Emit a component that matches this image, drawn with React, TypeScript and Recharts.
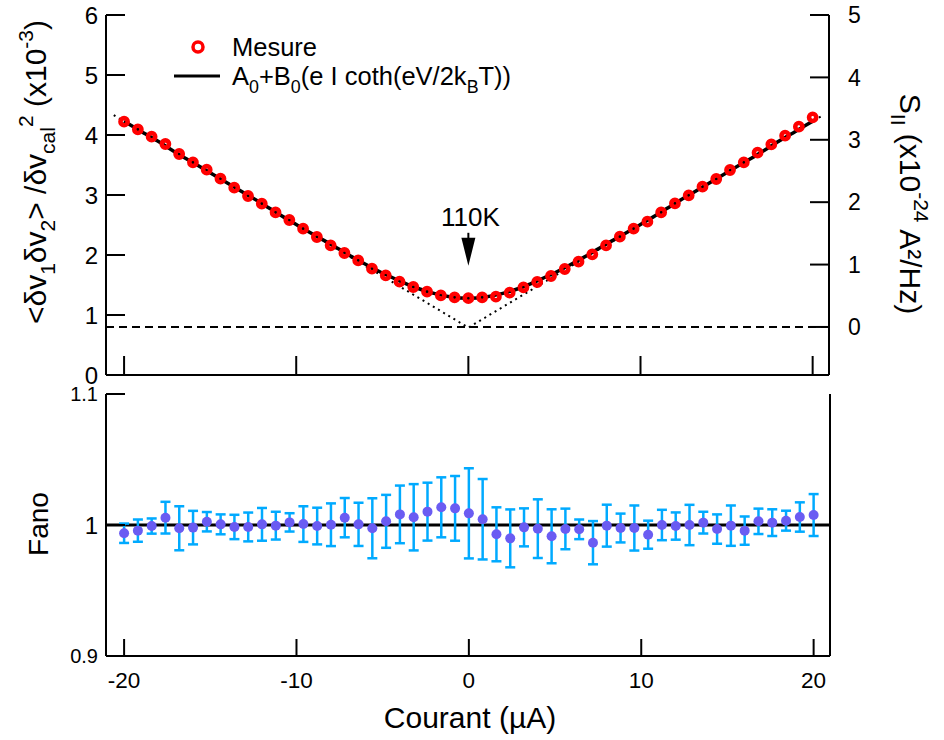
import {
  ComposedChart,
  Scatter,
  Line,
  XAxis,
  YAxis,
  ErrorBar,
  ReferenceLine,
  ReferenceDot,
} from 'recharts';

// courant (µA) des points de mesure
const current = [
  -20, -19.2, -18.4, -17.6, -16.8, -16, -15.2, -14.4, -13.6, -12.8, -12, -11.2, -10.4, -9.6, -8.8, -8,
  -7.2, -6.4, -5.6, -4.8, -4, -3.2, -2.4, -1.6, -0.8, 0, 0.8, 1.6, 2.4, 3.2, 4, 4.8, 5.6, 6.4, 7.2, 8,
  8.8, 9.6, 10.4, 11.2, 12, 12.8, 13.6, 14.4, 15.2, 16, 16.8, 17.6, 18.4, 19.2, 20,
];

// <dv1 dv2>/dvcal^2 (x1e-3)
const mesure = [
  4.222, 4.094, 3.972, 3.85, 3.683, 3.544, 3.422, 3.272, 3.122, 2.983, 2.856, 2.711, 2.583, 2.439, 2.3, 2.161,
  2.033, 1.911, 1.772, 1.661, 1.556, 1.467, 1.389, 1.328, 1.294, 1.28, 1.294, 1.306, 1.372, 1.461, 1.55, 1.65,
  1.767, 1.889, 2.011, 2.161, 2.306, 2.439, 2.556, 2.711, 2.861, 2.994, 3.139, 3.267, 3.417, 3.544, 3.706,
  3.844, 3.989, 4.139, 4.294,
];

const fano = [
  0.9937, 0.9957, 0.9992, 1.0056, 0.9975, 0.998, 1.0025, 1.0005, 0.9985, 0.9985, 1.0005, 0.9995, 1.002, 1.0007,
  0.9992, 1.0002, 1.0056, 1.0005, 0.9975, 1.0028, 1.0081, 1.0059, 1.0102, 1.0135, 1.0127, 1.0089, 1.0044,
  0.9929, 0.9898, 0.9982, 0.9972, 0.9914, 0.997, 0.9967, 0.9865, 0.9995, 0.9977, 0.9977, 0.9926, 1.0, 0.9992,
  1.0, 1.0018, 0.9969, 0.9995, 0.9957, 1.0028, 1.0018, 1.0033, 1.0061, 1.0076,
];

const fanoErr = [
  0.0074, 0.0085, 0.0058, 0.0121, 0.0168, 0.0128, 0.0074, 0.0076, 0.0093, 0.011, 0.0125, 0.0106, 0.007, 0.0136,
  0.014, 0.0163, 0.015, 0.0165, 0.0229, 0.0202, 0.022, 0.0253, 0.0221, 0.0229, 0.0247, 0.0344, 0.0307, 0.0206,
  0.0221, 0.0145, 0.0224, 0.0206, 0.0155, 0.0075, 0.0165, 0.016, 0.011, 0.0172, 0.0107, 0.0116, 0.0104, 0.0154,
  0.0083, 0.0112, 0.0154, 0.0108, 0.0097, 0.0102, 0.0076, 0.0112, 0.016,
];

// ajustement A0+B0(eI coth(eV/2kBT))
const fitCurrent = [
  -20, -19, -18, -17, -16, -15, -14, -13, -12, -11, -10, -9, -8, -7, -6, -5, -4, -3, -2, -1, 0,
  1, 2, 3, 4, 5, 6, 7, 8, 9, 10, 11, 12, 13, 14, 15, 16, 17, 18, 19, 20,
];
const fitValue = [
  4.23, 4.06, 3.89, 3.71, 3.54, 3.37, 3.2, 3.03, 2.86, 2.68, 2.51, 2.34, 2.18, 2.01, 1.85, 1.7, 1.57, 1.45, 1.36,
  1.3, 1.28, 1.3, 1.36, 1.45, 1.57, 1.7, 1.85, 2.01, 2.18, 2.34, 2.51, 2.68, 2.86, 3.03, 3.2, 3.37, 3.54, 3.71,
  3.89, 4.06, 4.23,
];

// asymptotes (bruit de grenaille a T=0)
const asymCurrent = [-20.6, 0, 20.6];
const asymValue = [4.33, 0.79, 4.33];

const xTicks = [-20, -10, 0, 10, 20];
const yTicksTop = [0, 1, 2, 3, 4, 5, 6];
const yTicksRight = [0, 1, 2, 3, 4, 5];
const yTicksFano = [0.9, 1, 1.1];

const X_DOMAIN: [number, number] = [-21.05, 20.95];
const FONT = "'Liberation Sans', Arial, sans-serif";

const mesureData = current.map((x, i) => ({ x, y: mesure[i] }));
const fanoData = current.map((x, i) => ({ x, y: fano[i], err: fanoErr[i] }));
const fitData = fitCurrent.map((x, i) => ({ x, y: fitValue[i] }));
const asymData = asymCurrent.map((x, i) => ({ x, y: asymValue[i] }));

const TICK_LEN = 19;

function LeftTick(props: any) {
  const { x, y, payload, big } = props;
  const v = payload.value;
  const fs = big ? 24 : v === 1 ? 24 : 20;
  return (
    <g>
      <line x1={x} y1={y} x2={x + TICK_LEN} y2={y} stroke="#000" strokeWidth={2} />
      <text x={x - 8} y={y} dy="0.36em" textAnchor="end" fontSize={fs} fontFamily={FONT} fill="#000">
        {v}
      </text>
    </g>
  );
}

function RightTick(props: any) {
  const { x, y, payload } = props;
  return (
    <g>
      <line x1={x} y1={y} x2={x - TICK_LEN} y2={y} stroke="#000" strokeWidth={2} />
      <text x={x + 19} y={y} dy="0.36em" textAnchor="start" fontSize={23} fontFamily={FONT} fill="#000">
        {payload.value}
      </text>
    </g>
  );
}

function BottomTick(props: any) {
  const { x, y, payload, label } = props;
  return (
    <g>
      <line x1={x} y1={y} x2={x} y2={y - (label ? 17 : TICK_LEN)} stroke="#000" strokeWidth={2} />
      {label && (
        <text x={x} y={y + 24} dy="0.36em" textAnchor="middle" fontSize={22.5} fontFamily={FONT} fill="#000">
          {payload.value}
        </text>
      )}
    </g>
  );
}

function TopTick(props: any) {
  const { x, y, len } = props;
  return <line x1={x} y1={y} x2={x} y2={y + (len || TICK_LEN)} stroke="#000" strokeWidth={2} />;
}

const axisLine = { stroke: '#000', strokeWidth: 2 };

function Ring(props: any) {
  const { cx, cy } = props;
  return <circle cx={cx} cy={cy} r={3.6} fill="none" stroke="#ff0000" strokeWidth={4.6} />;
}

function Dot(props: any) {
  const { cx, cy } = props;
  return <circle cx={cx} cy={cy} r={5} fill="#6a5cf2" />;
}

function Arrow110K(props: any) {
  const { cx, cy } = props;
  return (
    <g>
      <text x={cx + 2} y={cy - 40} textAnchor="middle" fontSize={26} fontFamily={FONT} fill="#000">
        110K
      </text>
      <line x1={cx} y1={cy - 33} x2={cx} y2={cy - 20} stroke="#000" strokeWidth={2} />
      <polygon points={`${cx - 7},${cy - 28} ${cx + 7},${cy - 28} ${cx},${cy}`} fill="#000" />
    </g>
  );
}

// texte avec indices / exposants : [texte, 0 normal | 1 indice | 2 exposant]
type Seg = [string, number];
function Rich({ segs, fs }: { segs: Seg[]; fs: number }) {
  let shift = 0;
  return (
    <>
      {segs.map(([t, k], i) => {
        const target = k === 1 ? fs * 0.3 : k === 2 ? -fs * 0.45 : 0;
        const dy = target - shift;
        shift = target;
        return (
          <tspan key={i} dy={dy} fontSize={k ? fs * 0.7 : fs}>
            {t}
          </tspan>
        );
      })}
    </>
  );
}

const legendFit: Seg[] = [
  ['A', 0],
  ['0', 1],
  ['+B', 0],
  ['0', 1],
  ['(e I coth(eV/2k', 0],
  ['B', 1],
  ['T))', 0],
];
const leftTitle: Seg[] = [
  ['<δv', 0],
  ['1', 1],
  ['δv', 0],
  ['2', 1],
  ['> /δv', 0],
  ['cal', 1],
  ['2', 2],
  [' (x10', 0],
  ['-3', 2],
  [')', 0],
];
const rightTitle: Seg[] = [
  ['S', 0],
  ['II', 1],
  [' (x10', 0],
  ['-24', 2],
  [' A²/Hz)', 0],
];

function Overlay() {
  return (
    <svg
      width={944}
      height={740}
      style={{ position: 'absolute', left: 0, top: 0, pointerEvents: 'none' }}
      fontFamily={FONT}
    >
      {/* legende */}
      <circle cx={198} cy={47} r={5} fill="none" stroke="#ff0000" strokeWidth={3.5} />
      <text x={232} y={56} fontSize={25.5}>
        Mesure
      </text>
      <line x1={174} y1={76} x2={220} y2={76} stroke="#000" strokeWidth={3} />
      <text x={232} y={85} fontSize={25.5}>
        <Rich segs={legendFit} fs={25.5} />
      </text>

      {/* titres des axes */}
      <text transform="translate(46,172) rotate(-90)" textAnchor="middle" fontSize={30}>
        <Rich segs={leftTitle} fs={30} />
      </text>
      <text transform="translate(900,204) rotate(90)" textAnchor="middle" fontSize={30}>
        <Rich segs={rightTitle} fs={30} />
      </text>
      <text transform="translate(48,524) rotate(-90)" textAnchor="middle" fontSize={28}>
        Fano
      </text>
      <text x={470} y={728} textAnchor="middle" fontSize={30}>
        Courant (µA)
      </text>
    </svg>
  );
}

export default function App() {
  return (
    <div style={{ position: 'absolute', left: 0, top: 0, width: 944, height: 740, background: '#fff', fontFamily: FONT }}>
      <div style={{ position: 'absolute', left: 0, top: 0 }}>
        <ComposedChart width={944} height={385} margin={{ top: 15, right: 0, bottom: 0, left: 0 }}>
          <XAxis
            xAxisId="b"
            type="number"
            dataKey="x"
            domain={X_DOMAIN}
            ticks={xTicks}
            allowDataOverflow
            height={10}
            tickSize={0}
            tickMargin={0}
            tickLine={false}
            axisLine={axisLine}
            tick={<BottomTick />}
          />
          <XAxis
            xAxisId="t"
            orientation="top"
            type="number"
            dataKey="x"
            domain={X_DOMAIN}
            ticks={xTicks}
            allowDataOverflow
            height={0}
            tickSize={0}
            tickMargin={0}
            tickLine={false}
            axisLine={axisLine}
            tick={<TopTick />}
          />
          <YAxis
            yAxisId="l"
            type="number"
            domain={[0, 6]}
            ticks={yTicksTop}
            allowDataOverflow
            width={106}
            tickSize={0}
            tickMargin={0}
            tickLine={false}
            axisLine={axisLine}
            tick={<LeftTick big />}
          />
          <YAxis
            yAxisId="r"
            orientation="right"
            type="number"
            domain={[-0.77, 5]}
            ticks={yTicksRight}
            allowDataOverflow
            width={115}
            tickSize={0}
            tickMargin={0}
            tickLine={false}
            axisLine={axisLine}
            tick={<RightTick />}
          />
          <ReferenceLine
            xAxisId="b"
            yAxisId="r"
            y={0}
            stroke="#000"
            strokeWidth={2}
            strokeDasharray="8 5"
          />
          <Line
            xAxisId="b"
            yAxisId="l"
            data={asymData}
            dataKey="y"
            type="linear"
            stroke="#000"
            strokeWidth={2}
            strokeDasharray="2 4"
            dot={false}
            isAnimationActive={false}
          />
          <Scatter
            xAxisId="b"
            yAxisId="l"
            data={mesureData}
            dataKey="y"
            shape={<Ring />}
            isAnimationActive={false}
          />
          <Line
            xAxisId="b"
            yAxisId="l"
            data={fitData}
            dataKey="y"
            type="monotone"
            stroke="#000"
            strokeWidth={3.5}
            dot={false}
            isAnimationActive={false}
          />
          <ReferenceDot xAxisId="b" yAxisId="l" x={0} y={1.82} r={0} shape={<Arrow110K />} />
        </ComposedChart>
      </div>

      <div style={{ position: 'absolute', left: 0, top: 385 }}>
        <ComposedChart width={944} height={355} margin={{ top: 9, right: 0, bottom: 0, left: 0 }}>
          <XAxis
            xAxisId="b"
            type="number"
            dataKey="x"
            domain={X_DOMAIN}
            ticks={xTicks}
            allowDataOverflow
            height={84}
            tickSize={0}
            tickMargin={0}
            tickLine={false}
            axisLine={axisLine}
            tick={<BottomTick label />}
          />
          <XAxis
            xAxisId="t"
            orientation="top"
            type="number"
            dataKey="x"
            domain={X_DOMAIN}
            ticks={xTicks}
            allowDataOverflow
            height={0}
            tickSize={0}
            tickMargin={0}
            tickLine={false}
            axisLine={axisLine}
            tick={<TopTick len={17} />}
          />
          <YAxis
            yAxisId="l"
            type="number"
            domain={[0.9, 1.1]}
            ticks={yTicksFano}
            allowDataOverflow
            width={106}
            tickSize={0}
            tickMargin={0}
            tickLine={false}
            axisLine={axisLine}
            tick={<LeftTick />}
          />
          <YAxis
            yAxisId="r"
            orientation="right"
            type="number"
            domain={[0.9, 1.1]}
            allowDataOverflow
            width={114}
            tick={false}
            tickLine={false}
            axisLine={axisLine}
          />
          <ReferenceLine xAxisId="b" yAxisId="l" y={1} stroke="#000" strokeWidth={3} />
          <Scatter
            xAxisId="b"
            yAxisId="l"
            data={fanoData}
            dataKey="y"
            shape={<Dot />}
            isAnimationActive={false}
          >
            <ErrorBar dataKey="err" direction="y" width={5} stroke="#00aaff" strokeWidth={2.5} />
          </Scatter>
        </ComposedChart>
      </div>

      <Overlay />
    </div>
  );
}
